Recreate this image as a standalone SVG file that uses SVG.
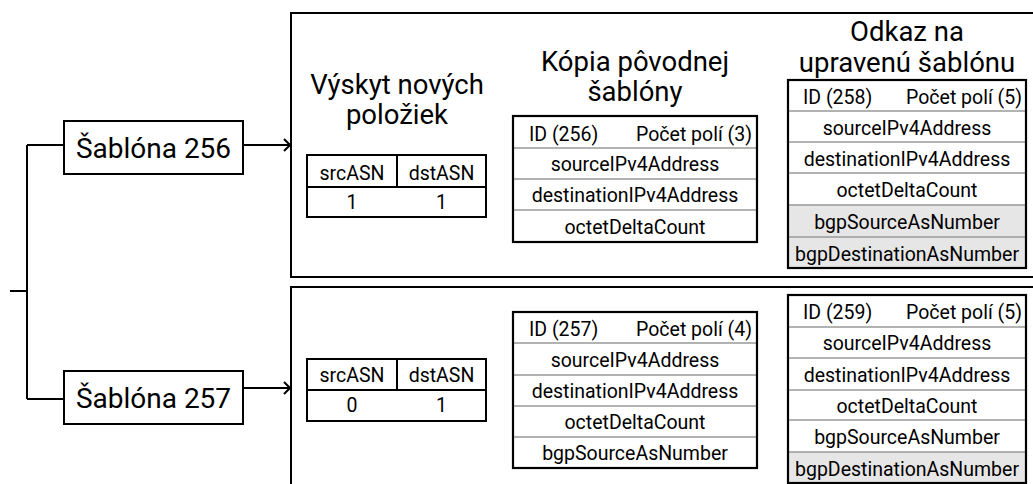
<svg xmlns="http://www.w3.org/2000/svg" width="1033" height="484" viewBox="0 0 1033 484">
<defs>
<style>
text{font-family:Roboto,"DejaVu Sans",sans-serif;fill:#000}
.t{font-size:19.5px}
.title{font-size:27.5px;text-anchor:middle}
.big{font-size:28px;text-anchor:middle}
.c{text-anchor:middle}
.e{text-anchor:end}
.line{stroke:#000;stroke-width:2;fill:none}
.box{fill:#fff;stroke:#000;stroke-width:2}
.tbl{fill:none;stroke:#000;stroke-width:2.2}
.div{stroke:#999;stroke-width:1.5}
.gray{fill:#e6e6e6}
</style>
<marker id="arr" markerWidth="10" markerHeight="14" refX="9" refY="7" orient="auto" markerUnits="userSpaceOnUse">
<path d="M3,1 L9,7 L3,13" fill="none" stroke="#000" stroke-width="2"/>
</marker>
</defs>
<rect width="1033" height="484" fill="#fff"/>

<g id="panels">
<rect x="291" y="13" width="760" height="264" class="line"/>
<rect x="291" y="287" width="760" height="230" class="line"/>
</g>

<g id="connectors">
<path d="M10,291 H27 M27,145 V399 M27,145 H64 M27,399 H64" class="line"/>
<path d="M243,145 H290" class="line" marker-end="url(#arr)"/>
<path d="M243,388 H290" class="line" marker-end="url(#arr)"/>
</g>

<g id="sablona256">
<rect x="64" y="121" width="179" height="53" class="box"/>
<text x="153.5" y="158" class="big">Šablóna 256</text>
</g>
<g id="sablona257">
<rect x="64" y="371" width="179" height="53" class="box"/>
<text x="153.5" y="408" class="big">Šablóna 257</text>
</g>

<g id="titles">
<text x="397" y="94" class="title">Výskyt nových</text>
<text x="397" y="124" class="title">položiek</text>
<text x="635" y="71" class="title">Kópia pôvodnej</text>
<text x="635" y="101" class="title">šablóny</text>
<text x="907" y="41" class="title">Odkaz na</text>
<text x="907" y="72" class="title">upravenú šablónu</text>
</g>

<g id="asn1">
<rect x="307" y="155" width="179" height="62" class="box"/>
<path d="M307,187 H486 M397,155 V187" class="line" stroke-width="1.5"/>
<text x="352" y="180" class="t c">srcASN</text>
<text x="441.5" y="180" class="t c">dstASN</text>
<text x="352" y="209" class="t c">1</text>
<text x="441.5" y="209" class="t c">1</text>
</g>

<g id="asn2">
<rect x="307" y="359" width="179" height="62" class="box"/>
<path d="M307,390 H486 M397,359 V390" class="line" stroke-width="1.5"/>
<text x="352" y="382" class="t c">srcASN</text>
<text x="441.5" y="382" class="t c">dstASN</text>
<text x="352" y="412" class="t c">0</text>
<text x="441.5" y="412" class="t c">1</text>
</g>

<g id="tpl256">
<rect x="513" y="116" width="244" height="126" fill="#fff"/>
<path d="M513,148 H757 M513,179 H757 M513,210 H757" class="div"/>
<rect x="513" y="116" width="244" height="126" class="tbl"/>
<text x="529" y="141" class="t">ID (256)</text>
<text x="752" y="141" class="t e">Počet polí (3)</text>
<text x="635" y="171" class="t c">sourceIPv4Address</text>
<text x="635" y="202" class="t c">destinationIPv4Address</text>
<text x="635" y="234" class="t c">octetDeltaCount</text>
</g>

<g id="tpl258">
<rect x="788" y="80" width="238" height="188" fill="#fff"/>
<rect x="788" y="205" width="238" height="63" class="gray"/>
<path d="M788,111 H1026 M788,142 H1026 M788,173 H1026 M788,205 H1026 M788,237 H1026" class="div"/>
<rect x="788" y="80" width="238" height="188" class="tbl"/>
<text x="803" y="104" class="t">ID (258)</text>
<text x="1022" y="104" class="t e">Počet polí (5)</text>
<text x="907" y="135" class="t c">sourceIPv4Address</text>
<text x="907" y="166" class="t c">destinationIPv4Address</text>
<text x="907" y="197" class="t c">octetDeltaCount</text>
<text x="907" y="229" class="t c">bgpSourceAsNumber</text>
<text x="907" y="261" class="t c">bgpDestinationAsNumber</text>
</g>

<g id="tpl257">
<rect x="513" y="312" width="244" height="156" fill="#fff"/>
<path d="M513,343 H757 M513,375 H757 M513,406 H757 M513,437 H757" class="div"/>
<rect x="513" y="312" width="244" height="156" class="tbl"/>
<text x="529" y="336" class="t">ID (257)</text>
<text x="752" y="336" class="t e">Počet polí (4)</text>
<text x="635" y="367" class="t c">sourceIPv4Address</text>
<text x="635" y="398" class="t c">destinationIPv4Address</text>
<text x="635" y="429" class="t c">octetDeltaCount</text>
<text x="635" y="460" class="t c">bgpSourceAsNumber</text>
</g>

<g id="tpl259">
<rect x="788" y="295" width="238" height="188" fill="#fff"/>
<rect x="788" y="452" width="238" height="31" class="gray"/>
<path d="M788,327 H1026 M788,358 H1026 M788,390 H1026 M788,420 H1026 M788,452 H1026" class="div"/>
<rect x="788" y="295" width="238" height="188" class="tbl"/>
<text x="803" y="319" class="t">ID (259)</text>
<text x="1022" y="319" class="t e">Počet polí (5)</text>
<text x="907" y="350" class="t c">sourceIPv4Address</text>
<text x="907" y="382" class="t c">destinationIPv4Address</text>
<text x="907" y="413" class="t c">octetDeltaCount</text>
<text x="907" y="444" class="t c">bgpSourceAsNumber</text>
<text x="907" y="476" class="t c">bgpDestinationAsNumber</text>
</g>
</svg>
